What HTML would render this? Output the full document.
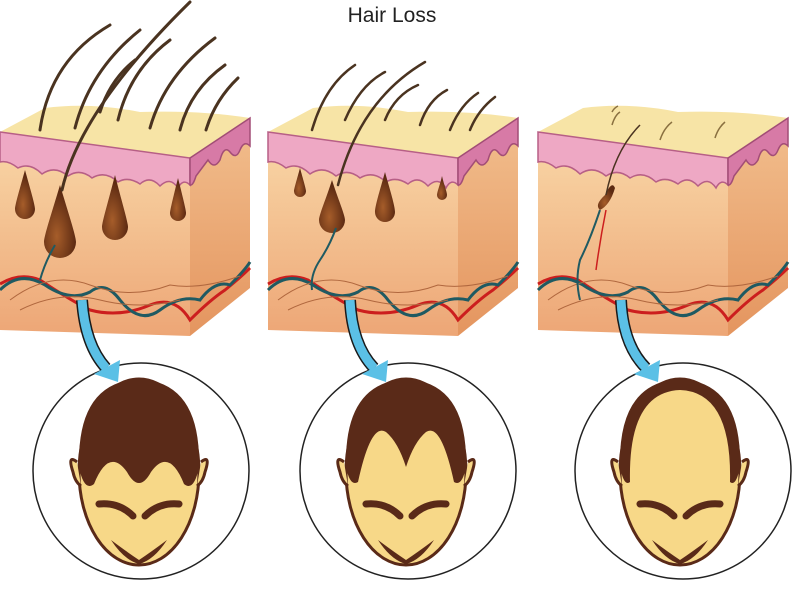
<!DOCTYPE html>
<html><head><meta charset="utf-8"><style>
html,body{margin:0;padding:0;background:#fff;width:800px;height:590px;overflow:hidden}
svg{display:block}
</style></head><body>
<svg width="800" height="590" viewBox="0 0 800 590" xmlns="http://www.w3.org/2000/svg">
<defs>
<linearGradient id="fr" x1="0" y1="0" x2="0" y2="1">
<stop offset="0" stop-color="#f9d8a8"/><stop offset="1" stop-color="#eda676"/></linearGradient>
<linearGradient id="sd" x1="0" y1="0" x2="0" y2="1">
<stop offset="0" stop-color="#f2bf8e"/><stop offset="1" stop-color="#e4955f"/></linearGradient>
<radialGradient id="fol" cx="0.4" cy="0.7" r="0.6"><stop offset="0" stop-color="#a65d2a"/><stop offset="1" stop-color="#5c2a12"/></radialGradient>
<g id="block">
<polygon points="0,132 190,158 190,336 0,330" fill="url(#fr)"/>
<polygon points="190,158 250,118 250,288 190,336" fill="url(#sd)"/>
<path d="M0,132 L45,108 Q90,102 140,112 Q200,110 250,118 L190,158 Z" fill="#f7e4a6"/>
<path d="M0,132 L190,158 L190,185 Q183,178 178,188 Q170,176 160,186 Q150,175 140,184 Q128,176 118,182 Q105,170 92,178 Q80,168 68,176 Q55,165 42,174 Q30,162 18,168 Q8,160 0,162 Z" fill="#eea8c4" stroke="#b75f86" stroke-width="1.5"/>
<path d="M190,158 L250,118 L250,146 Q244,140 240,150 Q236,160 230,152 Q224,145 220,160 Q214,170 208,160 Q202,168 196,176 Q193,186 190,185 Z" fill="#d77aa6" stroke="#a24d76" stroke-width="1.5"/>
<path d="M0,284 Q20,272 40,280 Q70,300 90,310 Q120,318 150,305 Q175,295 190,320 Q210,300 225,290 Q240,278 250,268" fill="none" stroke="#cc1e1e" stroke-width="3"/>
<path d="M0,290 Q20,270 45,285 Q70,302 90,292 Q105,280 120,300 Q140,325 160,310 Q180,295 200,300 Q215,280 230,285 Q245,270 250,262" fill="none" stroke="#1f5a62" stroke-width="3"/>
<path d="M10,300 Q50,270 90,285 Q130,300 170,285 Q200,290 240,276" fill="none" stroke="#b0673e" stroke-width="1"/>
<path d="M20,310 Q60,290 100,300 Q140,310 180,300" fill="none" stroke="#b0673e" stroke-width="1"/>
</g>
<g id="head">
<ellipse cx="0" cy="0" rx="60" ry="93" fill="#f7d888" stroke="#5a2a18" stroke-width="3"/>
<path d="M-40,32 Q-20,30 -6,44 M40,32 Q20,30 6,44" fill="none" stroke="#5a2a18" stroke-width="7" stroke-linecap="round"/>
<path d="M-28,68 Q-12,80 0,88 Q12,80 28,68 Q15,88 0,92 Q-15,88 -28,68 Z" fill="#5a2a18"/>
<path d="M-62,-10 Q-72,-18 -66,0 Q-64,10 -58,14 M62,-10 Q72,-18 66,0 Q64,10 58,14" fill="#f7d888" stroke="#5a2a18" stroke-width="3"/>
</g>
</defs>
<text x="392" y="22" text-anchor="middle" font-family="Liberation Sans, sans-serif" font-size="21" fill="#222">Hair Loss</text>

<use href="#block" x="0" y="0"/>
<use href="#block" x="268" y="0"/>
<use href="#block" x="538" y="0"/>

<!-- block 1 hairs & follicles -->
<g fill="url(#fol)">
<path d="M25,170 C30,188 35,205 35,209 A10 10 0 0 1 15,209 C15,205 20,188 25,170Z"/>
<path d="M60,185 C68,212 76,236 76,242 A16 16 0 0 1 44,242 C44,236 52,212 60,185Z"/>
<path d="M115,175 C121,199 128,222 128,227 A13 13 0 0 1 102,227 C102,222 109,199 115,175Z"/>
<path d="M178,178 C182,194 186,210 186,213 A8 8 0 0 1 170,213 C170,210 174,194 178,178Z"/>
</g>
<g fill="none" stroke="#4a3320" stroke-width="3" stroke-linecap="round">
<path d="M62,190 Q80,110 190,2"/>
<path d="M40,130 Q50,60 110,25"/>
<path d="M75,128 Q90,70 140,30"/>
<path d="M118,120 Q130,70 170,40"/>
<path d="M150,128 Q165,75 215,38"/>
<path d="M180,130 Q190,90 225,65"/>
<path d="M206,130 Q215,100 238,78"/>
<path d="M100,112 Q110,80 135,60"/>
</g>
<path d="M55,245 Q45,262 40,280" fill="none" stroke="#1f5a62" stroke-width="2"/>
<!-- block 2 -->
<g fill="url(#fol)">
<path d="M300,168 C303,179 306,189 306,191 A6 6 0 0 1 294,191 C294,189 297,179 300,168Z"/>
<path d="M332,180 C338,199 345,215 345,220 A13 13 0 0 1 319,220 C319,215 326,199 332,180Z"/>
<path d="M385,172 C390,190 395,206 395,212 A10 10 0 0 1 375,212 C375,206 380,190 385,172Z"/>
<path d="M442,176 C444,185 447,192 447,195 A5 5 0 0 1 437,195 C437,192 440,185 442,176Z"/>
</g>
<g fill="none" stroke="#4a3320" stroke-width="2.5" stroke-linecap="round">
<path d="M338,185 Q360,100 425,62"/>
<path d="M312,130 Q325,85 355,65"/>
<path d="M345,120 Q360,85 385,72"/>
<path d="M385,120 Q395,95 418,85"/>
<path d="M420,125 Q428,100 447,90"/>
<path d="M450,130 Q460,105 478,93"/>
<path d="M470,130 Q478,110 495,97"/>
</g>
<path d="M336,228 Q330,245 320,260 Q310,275 312,290" fill="none" stroke="#1f5a62" stroke-width="2"/>
<!-- block 3 -->
<path d="M605,195 Q612,180 615,188 Q610,205 600,210 Q594,205 605,195Z" fill="url(#fol)"/>
<path d="M606,195 Q615,150 640,125" fill="none" stroke="#4a3320" stroke-width="1.5"/>
<g fill="none" stroke="#8a7040" stroke-width="1.5">
<path d="M612,125 Q615,115 620,112"/><path d="M660,140 Q664,128 672,122"/><path d="M715,138 Q718,128 725,122"/><path d="M612,112 Q614,108 618,106"/>
</g>
<path d="M600,210 Q590,240 580,260 Q575,280 580,300" fill="none" stroke="#1f5a62" stroke-width="2"/>
<path d="M606,210 Q600,240 596,270" fill="none" stroke="#cc1e1e" stroke-width="1.5"/>
<!-- circles -->
<g fill="#fff" stroke="#222" stroke-width="1.5">
<circle cx="141" cy="471" r="108"/>
<circle cx="408" cy="471" r="108"/>
<circle cx="683" cy="471" r="108"/>
</g>
<!-- arrows -->
<g fill="none" stroke-linecap="butt">
<path d="M82,300 Q85,345 106,368" stroke="#1a1a1a" stroke-width="12"/>
<path d="M82,300 Q85,345 106,368" stroke="#5bc0e6" stroke-width="9"/>
<path d="M350,300 Q352,345 374,368" stroke="#1a1a1a" stroke-width="12"/>
<path d="M350,300 Q352,345 374,368" stroke="#5bc0e6" stroke-width="9"/>
<path d="M621,300 Q623,345 646,368" stroke="#1a1a1a" stroke-width="12"/>
<path d="M621,300 Q623,345 646,368" stroke="#5bc0e6" stroke-width="9"/>
</g>
<polygon points="94,374 120,360 118,382" fill="#5bc0e6"/>
<polygon points="362,374 388,360 386,382" fill="#5bc0e6"/>
<polygon points="634,374 660,360 658,382" fill="#5bc0e6"/>
<!-- heads -->
<g transform="translate(139,472)">
<use href="#head"/>
<path d="M-60,-5 Q-62,-90 0,-93 Q62,-90 60,-5 Q55,20 45,12 Q30,-25 12,0 Q0,22 -12,0 Q-30,-25 -45,12 Q-55,20 -60,-5Z" fill="#5a2a18"/>
</g>
<g transform="translate(406,472)">
<use href="#head"/>
<path d="M-60,-5 Q-62,-90 0,-93 Q62,-90 60,-5 Q56,15 48,10 Q35,-50 20,-40 Q8,-30 0,-5 Q-8,-30 -20,-40 Q-35,-50 -48,10 Q-56,15 -60,-5Z" fill="#5a2a18"/>
</g>
<g transform="translate(680,472)">
<use href="#head"/>
<path d="M-60,-5 Q-62,-90 0,-93 Q62,-90 60,-5 Q56,15 50,10 Q52,-80 0,-82 Q-52,-80 -50,10 Q-56,15 -60,-5Z" fill="#5a2a18"/>
</g>
</svg>
</body></html>
